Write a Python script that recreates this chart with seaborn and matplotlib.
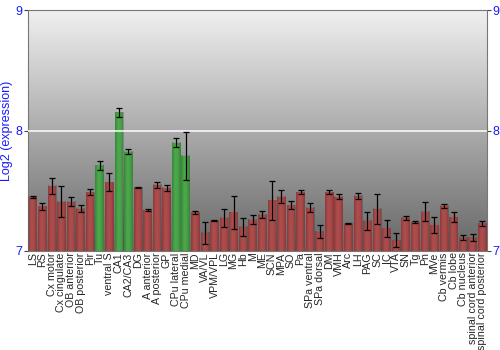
import numpy as np
import pandas as pd
import matplotlib
matplotlib.use("Agg")
import matplotlib.pyplot as plt
import seaborn as sns
from matplotlib.colors import LinearSegmentedColormap

regions = ["LS", "RS", "Cx motor", "Cx cingulate", "OB anterior", "OB posterior", "Pir", "Tu",
           "ventral S", "CA1", "CA2/CA3", "DG", "A anterior", "A posterior", "GP", "CPu lateral",
           "CPu medial", "MD", "VA/VL", "VPM/VPL", "LG", "MG", "Hb", "M", "ME", "SCN", "MPA", "SO",
           "Pa", "SPa ventral", "SPa dorsal", "DM", "VMH", "Arc", "LH", "PAG", "SC", "IC", "VTA",
           "SN", "Tg", "Pn", "MVe", "Cb vermis", "Cb lobe", "Cb nucleus", "spinal cord anterior",
           "spinal cord posterior"]
values = [7.45, 7.37, 7.54, 7.41, 7.41, 7.35, 7.49, 7.71,
          7.57, 8.15, 7.825, 7.53, 7.34, 7.55, 7.525, 7.90,
          7.79, 7.32, 7.15, 7.25, 7.275, 7.32, 7.20, 7.26, 7.30, 7.42, 7.45, 7.38,
          7.49, 7.36, 7.16, 7.49, 7.45, 7.225, 7.46, 7.25, 7.35, 7.19, 7.09,
          7.275, 7.24, 7.325, 7.215, 7.375, 7.28, 7.11, 7.11,
          7.23]
errors = [0.01, 0.03, 0.07, 0.13, 0.04, 0.03, 0.025, 0.04,
          0.075, 0.035, 0.02, 0.005, 0.005, 0.025, 0.025, 0.035,
          0.2, 0.015, 0.09, 0.005, 0.075, 0.14, 0.075, 0.035, 0.03, 0.165, 0.055, 0.035,
          0.02, 0.035, 0.055, 0.017, 0.02, 0.005, 0.025, 0.075, 0.125, 0.07, 0.055,
          0.015, 0.01, 0.08, 0.065, 0.017, 0.04, 0.02, 0.03,
          0.02]
highlight = ["Tu", "CA1", "CA2/CA3", "CPu lateral", "CPu medial"]

df = pd.DataFrame({"region": regions, "value": values, "err": errors})
df["group"] = ["hi" if r in highlight else "lo" for r in regions]

sns.set_style("white")
plt.rcParams["font.family"] = ["Liberation Sans", "DejaVu Sans"]

fig = plt.figure(figsize=(5, 3.5), dpi=100)
ax = fig.add_axes([0.056, 0.283, 0.918, 0.688])

# gradient background (light at top, dark at bottom)
grad = np.linspace(0, 1, 256).reshape(-1, 1)
bg = LinearSegmentedColormap.from_list("bg", ["#676767", "#f0f0f0"])
ax.imshow(grad, aspect="auto", cmap=bg, extent=[-0.5, len(regions) - 0.5, 7, 9],
          zorder=0, origin="lower")

palette = {"lo": "#c03c3c", "hi": "#3cb83c"}
sns.barplot(data=df, x="region", y="value", hue="group", palette=palette, dodge=False,
            width=0.9, legend=False, ax=ax, zorder=2, edgecolor="none")

# soft shading across each bar
shade_cmap = LinearSegmentedColormap.from_list("s", [(0, 0, 0, 0), (0, 0, 0, 1)])
for p in list(ax.patches):
    x0, w = p.get_x(), p.get_width()
    h = p.get_height()
    y0 = p.get_y()
    shade = np.array([[0.2, 0.05, 0.0, 0.03, 0.08, 0.22]])
    ax.imshow(shade, cmap=shade_cmap, vmin=0, vmax=1, extent=[x0, x0 + w, y0, y0 + h],
              aspect="auto", zorder=3, interpolation="bicubic")

ax.errorbar(np.arange(len(regions)), df["value"], yerr=df["err"], fmt="none",
            ecolor="black", elinewidth=0.9, capsize=2.5, capthick=0.9, zorder=4)

ax.axhline(8, color="white", lw=1.2, alpha=0.9, zorder=3.5)

ax.set_xlim(-0.5, len(regions) - 0.5)
ax.set_ylim(7, 9)
ax.set_yticks([7, 8, 9])
ax.set_yticklabels(["7", "8", "9"])
ax.tick_params(axis="y", which="both", left=True, right=True, labelleft=True, labelright=True,
               length=3, width=0.8, color="#444444", labelcolor="#1a1aff", labelsize=9, pad=1)
ax.tick_params(axis="x", length=0, labelsize=7.7, pad=1, labelrotation=90)
for lab in ax.get_xticklabels():
    lab.set_verticalalignment("top")
ax.set_xlabel("")
ax.set_ylabel("Log2 (expression)", color="#1a1aff", fontsize=9, labelpad=2)

for s in ["left", "right", "top", "bottom"]:
    ax.spines[s].set_color("#777777")
    ax.spines[s].set_linewidth(0.8)
    ax.spines[s].set_visible(True)

fig.savefig("out.png", dpi=100)
